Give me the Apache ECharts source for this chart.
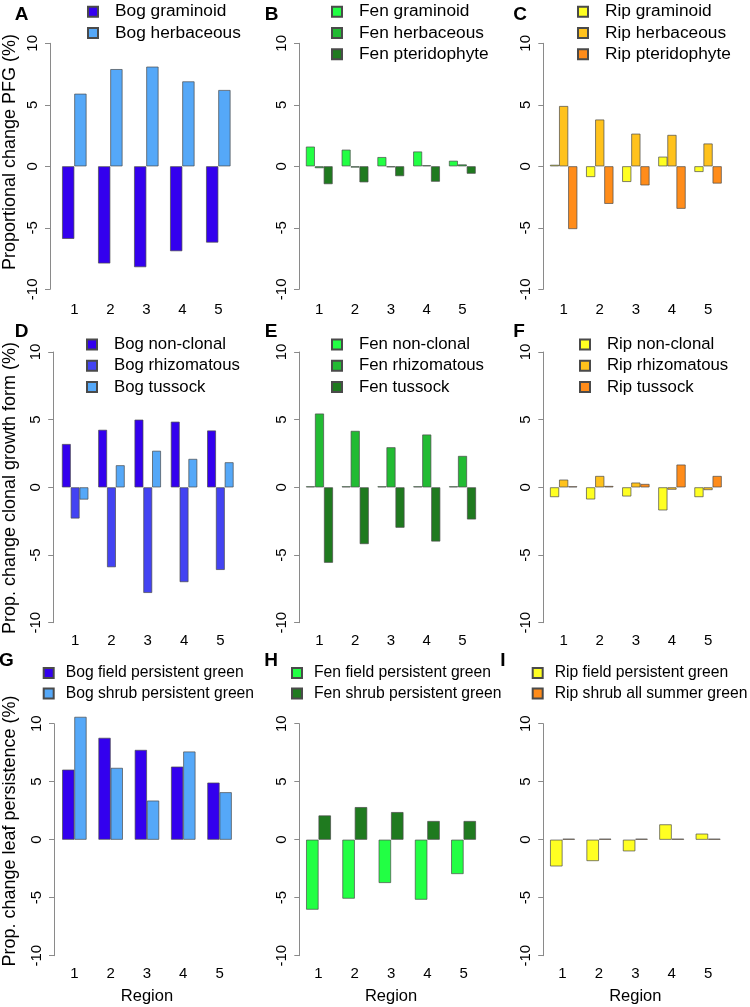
<!DOCTYPE html>
<html>
<head>
<meta charset="utf-8">
<script src="https://cdn.jsdelivr.net/npm/echarts@6/dist/echarts.min.js"></script>
<style>
  html, body { margin: 0; padding: 0; background: #fff; }
  #chart { width: 750px; height: 1007px; }
</style>
</head>
<body>
<div id="chart"></div>
<script>
// categories
const regions = ['1', '2', '3', '4', '5'];

// A - plant functional group, bog
const bogGraminoid = [-5.9, -7.9, -8.2, -6.9, -6.2];
const bogHerbaceous = [5.9, 7.9, 8.1, 6.9, 6.2];
// B - fen
const fenGraminoid = [1.6, 1.35, 0.75, 1.2, 0.45];
const fenHerbaceous = [-0.15, -0.1, -0.02, 0.02, 0.15];
const fenPteridophyte = [-1.45, -1.3, -0.8, -1.25, -0.6];
// C - riparian
const ripGraminoid = [0.12, -0.87, -1.27, 0.78, -0.46];
const ripHerbaceous = [4.9, 3.8, 2.65, 2.55, 1.85];
const ripPteridophyte = [-5.1, -3.05, -1.55, -3.45, -1.4];
// D - clonal growth form, bog
const bogNonClonal = [3.2, 4.25, 5.0, 4.85, 4.2];
const bogRhizomatous = [-2.3, -5.9, -7.8, -7.0, -6.1];
const bogTussock = [-0.9, 1.63, 2.7, 2.1, 1.85];
// E - fen
const fenNonClonal = [0, 0, 0, 0, 0];
const fenRhizomatous = [5.45, 4.17, 2.96, 3.9, 2.32];
const fenTussock = [-5.57, -4.19, -2.98, -4.0, -2.37];
// F - riparian
const ripNonClonal = [-0.72, -0.89, -0.67, -1.7, -0.72];
const ripRhizomatous = [0.57, 0.84, 0.35, -0.17, -0.2];
const ripTussock = [0, 0.1, 0.25, 1.68, 0.84];
// G - leaf persistence, bog
const bogFieldPersistent = [6.04, 8.78, 7.74, 6.3, 4.92];
const bogShrubPersistent = [10.59, 6.19, 3.37, 7.6, 4.09];
// H - fen
const fenFieldPersistent = [-6.03, -5.08, -3.73, -5.17, -2.96];
const fenShrubPersistent = [2.09, 2.81, 2.38, 1.61, 1.61];
// I - riparian
const ripFieldPersistent = [-2.3, -1.84, -1.0, 1.32, 0.52];
const ripShrubSummer = [0, 0, 0, 0, 0];

const yTitles = ['Proportional change PFG (%)', 'Prop. change clonal growth form (%)', 'Prop. change leaf persistence (%)'];

// colours
const BOG_DARK = '#3300EE', BOG_MID = '#4343F2', BOG_LIGHT = '#55A8F8';
const FEN_BRIGHT = '#22FF44', FEN_MID = '#22BB33', FEN_DARK = '#1F7A1F';
const RIP_YELLOW = '#FFFF22', RIP_GOLD = '#FFC21C', RIP_ORANGE = '#FF8C1A';

const panels = [
  { letter: 'A', series: [['Bog graminoid', bogGraminoid, BOG_DARK], ['Bog herbaceous', bogHerbaceous, BOG_LIGHT]] },
  { letter: 'B', series: [['Fen graminoid', fenGraminoid, FEN_BRIGHT], ['Fen herbaceous', fenHerbaceous, FEN_MID], ['Fen pteridophyte', fenPteridophyte, FEN_DARK]] },
  { letter: 'C', series: [['Rip graminoid', ripGraminoid, RIP_YELLOW], ['Rip herbaceous', ripHerbaceous, RIP_GOLD], ['Rip pteridophyte', ripPteridophyte, RIP_ORANGE]] },
  { letter: 'D', series: [['Bog non-clonal', bogNonClonal, BOG_DARK], ['Bog rhizomatous', bogRhizomatous, BOG_MID], ['Bog tussock', bogTussock, BOG_LIGHT]] },
  { letter: 'E', series: [['Fen non-clonal', fenNonClonal, FEN_BRIGHT], ['Fen rhizomatous', fenRhizomatous, FEN_MID], ['Fen tussock', fenTussock, FEN_DARK]] },
  { letter: 'F', series: [['Rip non-clonal', ripNonClonal, RIP_YELLOW], ['Rip rhizomatous', ripRhizomatous, RIP_GOLD], ['Rip tussock', ripTussock, RIP_ORANGE]] },
  { letter: 'G', series: [['Bog field persistent green', bogFieldPersistent, BOG_DARK], ['Bog shrub persistent green', bogShrubPersistent, BOG_LIGHT]] },
  { letter: 'H', series: [['Fen field persistent green', fenFieldPersistent, FEN_BRIGHT], ['Fen shrub persistent green', fenShrubPersistent, FEN_DARK]] },
  { letter: 'I', series: [['Rip field persistent green', ripFieldPersistent, RIP_YELLOW], ['Rip shrub all summer green', ripShrubSummer, RIP_ORANGE]] }
];

// layout (pixels)
const rows = [
  { top: 43.3, height: 246, legendTop: 3, legendFont: 17.3, legendGap: 4, textPad: 12, tickMargin: 13, titleY: 152, letterY: 15 },
  { top: 352, height: 270.7, legendTop: 336, legendFont: 16.8, legendGap: 4.2, textPad: 12, tickMargin: 11, titleY: 488, letterY: 332 },
  { top: 723.7, height: 232, legendTop: 665, legendFont: 15.7, legendGap: 4.6, textPad: 7, tickMargin: 11, titleY: 831, letterY: 661 }
];
const cells = [
  { left: 56.3, width: 180, barW: 12.2, off: 6.3, legendLeft: 87, letterX: 21.5 },
  { left: 301.4, width: 178.8, barW: 8.9, off: 2.4, legendLeft: 331, letterX: 271.5 },
  { left: 545.6, width: 180.5, barW: 9.1, off: 2.3, legendLeft: 577, letterX: 520 },
  { left: 57, width: 181.5, barW: 8.8, off: 3.8, legendLeft: 86, letterX: 21.5 },
  { left: 301.6, width: 178.8, barW: 9, off: 2.5, legendLeft: 331, letterX: 271 },
  { left: 545.6, width: 180.5, barW: 9.1, off: 2.3, legendLeft: 579, letterX: 519 },
  { left: 56.2, width: 181.5, barW: 12.2, off: 2.2, legendLeft: 42.7, letterX: 6.5 },
  { left: 300.4, width: 181.3, barW: 12.4, off: 1.1, legendLeft: 291, letterX: 271 },
  { left: 544.3, width: 182, barW: 12.4, off: 1.1, legendLeft: 531.7, letterX: 503 }
];

const FONT = '"Liberation Sans", Arial, Helvetica, sans-serif';
const AXIS_GREY = '#8a8a8a';

const grid = [], xAxis = [], yAxis = [], series = [], legend = [], graphic = [];

panels.forEach((p, i) => {
  const r = rows[Math.floor(i / 3)];
  const c = cells[i];
  const lastRow = i >= 6;
  grid.push({ left: c.left, top: r.top, width: c.width, height: r.height });
  xAxis.push({
    gridIndex: i, type: 'category', data: regions,
    axisLine: { show: false }, axisTick: { show: false },
    axisLabel: { fontSize: 15, color: '#000', fontFamily: FONT, margin: r.tickMargin },
    name: lastRow ? 'Region' : '', nameLocation: 'middle', nameGap: 32,
    nameTextStyle: { fontSize: 16.5, color: '#000', fontFamily: FONT }
  });
  yAxis.push({
    gridIndex: i, type: 'value', min: -10, max: 10, interval: 5, offset: c.off,
    axisLine: { show: true, lineStyle: { color: AXIS_GREY, width: 1 } },
    axisTick: { show: true, length: 5, lineStyle: { color: AXIS_GREY } },
    axisLabel: { rotate: 90, fontSize: 15, color: '#000', fontFamily: FONT, margin: 10 },
    splitLine: { show: false }
  });
  p.series.forEach(([name, values, color]) => {
    series.push({
      type: 'bar', name: name, xAxisIndex: i, yAxisIndex: i, data: values,
      barWidth: c.barW, barGap: '0%', barMinHeight: 1, clip: false,
      itemStyle: { color: color, borderColor: '#4a4a4a', borderWidth: 0.7 }
    });
  });
  legend.push({
    left: c.legendLeft, top: r.legendTop, orient: 'vertical', padding: 0,
    itemWidth: 10, itemHeight: 10, itemGap: r.legendGap, icon: 'rect', selectedMode: false,
    data: p.series.map(s => s[0]),
    textStyle: { fontSize: r.legendFont, lineHeight: r.legendFont, color: '#000', fontFamily: FONT, padding: [0, 0, 0, r.textPad] }
  });
  graphic.push({
    type: 'text', x: c.letterX, y: r.letterY,
    style: { text: p.letter, fontSize: 19, fontWeight: 'bold', fontFamily: FONT, fill: '#000', align: 'center', verticalAlign: 'middle' }
  });
});

rows.forEach((r, k) => {
  graphic.push({
    type: 'text', x: 10, y: r.titleY, rotation: Math.PI / 2,
    style: { text: yTitles[k], fontSize: 18, fontFamily: FONT, fill: '#000', align: 'center', verticalAlign: 'middle' }
  });
});

const chart = echarts.init(document.getElementById('chart'));
chart.setOption({
  backgroundColor: '#fff',
  animation: false,
  grid, xAxis, yAxis, series, legend, graphic
});
</script>
</body>
</html>
